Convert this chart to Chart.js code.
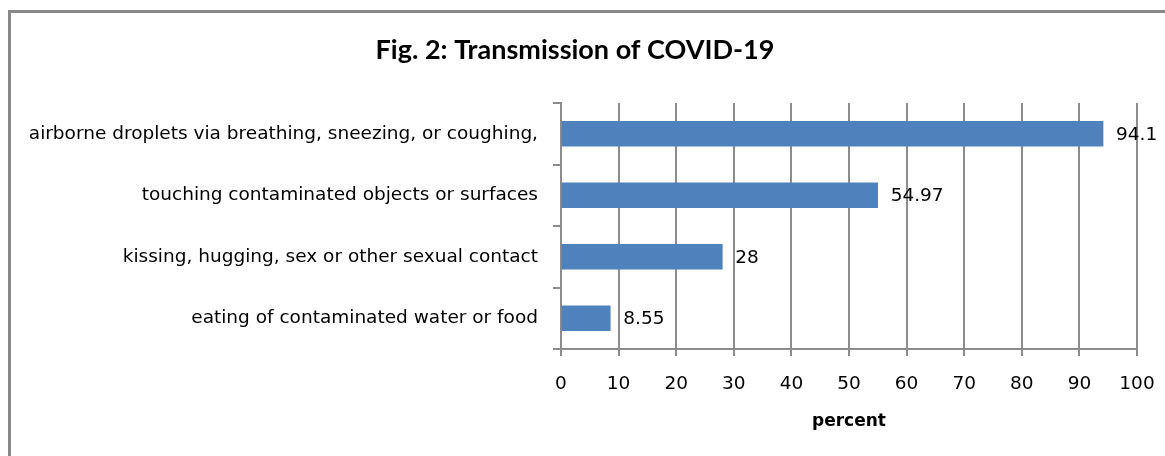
<!DOCTYPE html>
<html>
<head>
<meta charset="utf-8">
<script src="https://cdn.jsdelivr.net/npm/chart.js@4.4.0/dist/chart.umd.min.js"></script>
<style>
    html, body { margin: 0; padding: 0; background: #fff; overflow: hidden; }
    #frame {
        position: absolute; left: 8px; top: 10px;
        width: 1300px; height: 600px;
        border: 3px solid #888;
    }
    #chart { position: absolute; left: 0; top: 0; }
</style>
</head>
<body>
<div id="frame"></div>
<canvas id="chart" width="1165" height="456"></canvas>
<script>
// chart data
const categories = [
    'airborne droplets via breathing, sneezing, or coughing,',
    'touching contaminated objects or surfaces',
    'kissing, hugging, sex or other sexual contact',
    'eating of contaminated water or food'
];
const percentValues = [94.1, 54.97, 28, 8.55];
const xTicks = [0, 10, 20, 30, 40, 50, 60, 70, 80, 90, 100];

const chartTitle = 'Fig. 2: Transmission of COVID-19';
const xAxisTitle = 'percent';

// Draws the title and the value next to each bar
const labelsPlugin = {
    id: 'labelsPlugin',
    afterDraw(chart) {
        const ctx = chart.ctx;
        ctx.save();
        ctx.fillStyle = '#000';
        ctx.font = 'bold 27px Lato';
        ctx.textAlign = 'center';
        ctx.textBaseline = 'middle';
        ctx.fillText(chartTitle, 575, 50);

        ctx.font = '18.5px "DejaVu Sans"';
        ctx.textAlign = 'left';
        const meta = chart.getDatasetMeta(0);
        meta.data.forEach((bar, i) => {
            ctx.fillText(String(percentValues[i]), bar.x + 13, bar.y + 1);
        });
        ctx.restore();
    }
};

new Chart(document.getElementById('chart'), {
    type: 'bar',
    data: {
        labels: categories,
        datasets: [{
            data: percentValues,
            backgroundColor: '#4F81BD',
            borderWidth: 0,
            barThickness: 25
        }]
    },
    options: {
        indexAxis: 'y',
        responsive: false,
        animation: false,
        layout: {
            padding: { left: 0, right: 28, top: 103, bottom: 0 }
        },
        plugins: {
            legend: { display: false },
            tooltip: { enabled: false }
        },
        scales: {
            x: {
                min: 0,
                max: 100,
                afterBuildTicks: (scale) => {
                    scale.ticks = xTicks.map(v => ({ value: v }));
                },
                afterFit: (scale) => {
                    scale.height = 107;
                    scale.paddingLeft = 0;
                    scale.paddingRight = 0;
                },
                grid: {
                    color: '#8c8c8c',
                    lineWidth: 2,
                    tickLength: 7
                },
                border: { color: '#8c8c8c', width: 2 },
                ticks: {
                    color: '#000',
                    font: { family: 'DejaVu Sans', size: 18.5 },
                    padding: 17,
                    maxRotation: 0
                },
                title: {
                    display: true,
                    text: xAxisTitle,
                    color: '#000',
                    font: { family: 'DejaVu Sans', size: 17, weight: 'bold' },
                    padding: { top: 0, bottom: 24 }
                }
            },
            y: {
                afterFit: (scale) => { scale.width = 561; },
                grid: {
                    offset: true,
                    drawOnChartArea: false,
                    color: '#8c8c8c',
                    lineWidth: 2,
                    tickLength: 8
                },
                border: { color: '#8c8c8c', width: 2 },
                ticks: {
                    color: '#000',
                    font: { family: 'DejaVu Sans', size: 18.5 },
                    padding: 15
                }
            }
        }
    },
    plugins: [labelsPlugin]
});
</script>
</body>
</html>
